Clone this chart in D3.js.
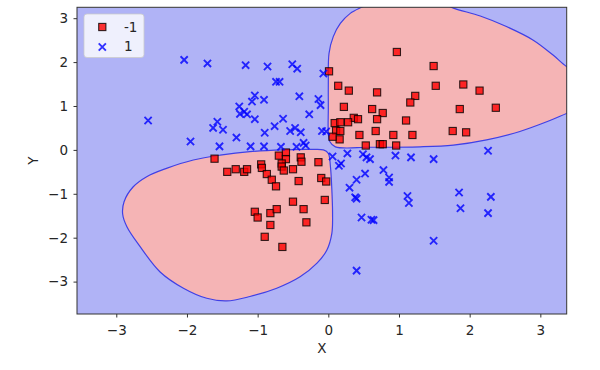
<!DOCTYPE html>
<html>
<head>
<meta charset="utf-8">
<script src="https://cdnjs.cloudflare.com/ajax/libs/d3/7.8.5/d3.min.js"></script>
<style>
body { margin: 0; background: #fff; }
svg { font-family: "DejaVu Sans", sans-serif; }
</style>
</head>
<body>
<svg width="600" height="370"></svg>
<script>
// points, class -1 (squares) and class 1 (crosses)
var classNeg = [
  [0.97,2.23],[1.49,1.91],[0.01,1.79],[0.14,1.46],[0.29,1.35],[0.69,1.31],[1.52,1.46],[1.91,1.49],
  [2.14,1.35],[1.23,1.23],[1.16,1.08],[0.22,0.98],[0.62,0.93],[0.77,0.84],[0.69,0.70],[1.86,0.93],
  [2.37,0.96],[1.10,0.67],[0.36,0.73],[0.42,0.70],[0.28,0.63],[0.09,0.61],[0.17,0.63],[0.11,0.44],
  [0.17,0.43],[0.16,0.24],[0.06,0.30],[0.44,0.34],[0.67,0.43],[0.92,0.34],[1.19,0.34],[1.76,0.43],
  [1.95,0.40],[0.53,0.10],[0.73,0.13],[0.77,0.13],[0.96,0.10],
  [-1.61,-0.20],[-1.43,-0.50],[-1.31,-0.44],[-1.19,-0.50],[-1.15,-0.44],[-0.95,-0.33],[-0.94,-0.41],
  [-0.87,-0.55],[-0.80,-0.68],[-0.74,-0.83],[-0.70,-0.13],[-0.60,-0.06],[-0.60,-0.21],[-0.66,-0.31],
  [-0.66,-0.38],[-0.63,-0.47],[-0.50,-0.44],[-0.39,-0.17],[-0.38,-0.27],[-0.14,-0.28],[-0.42,-0.71],
  [-0.10,-0.64],[-0.03,-0.72],[-0.05,-1.14],[-0.50,-1.18],[-0.35,-1.35],[-1.04,-1.41],[-1.00,-1.54],
  [-0.82,-1.44],[-0.73,-1.35],[-0.31,-1.65],[-0.82,-1.71],[-0.90,-1.98],[-0.65,-2.21]
];
var classPos = [
  [-2.04,2.05],[-1.71,1.97],[-1.17,1.93],[-0.86,1.90],[-0.51,1.95],[-0.44,1.85],[-0.74,1.55],[-0.69,1.55],
  [-0.07,1.74],[-0.41,1.22],[-1.04,1.24],[-1.08,1.10],[-0.91,1.14],[-0.14,1.16],[-0.11,1.02],[-1.26,0.99],
  [-1.19,0.87],[-1.25,0.82],[-1.15,0.81],[-1.04,0.70],[-0.64,0.71],[-0.27,0.81],[-1.57,0.64],[-1.63,0.50],
  [-1.49,0.46],[-2.55,0.67],[-1.95,0.19],[-1.30,0.28],[-1.54,0.08],[-0.90,0.39],[-0.76,0.54],[-0.54,0.43],
  [-0.47,0.50],[-0.39,0.40],[-0.09,0.43],[-0.03,0.42],[-1.10,0.08],[-0.91,0.08],[-0.67,0.07],[-0.45,0.07],
  [-0.35,0.16],[-0.32,0.10],
  [0.06,-0.15],[0.15,-0.36],[0.18,-0.31],[0.27,-0.08],[0.49,-0.10],[0.54,-0.17],[0.59,-0.21],[0.95,-0.13],
  [1.17,-0.17],[1.49,-0.21],[2.26,-0.02],[0.40,-0.68],[0.30,-0.86],[0.52,-0.54],[0.78,-0.46],[0.86,-0.63],
  [0.86,-0.73],[0.38,-1.08],[0.40,-1.11],[1.12,-1.05],[1.14,-1.21],[1.85,-0.97],[1.87,-1.33],[2.30,-1.07],
  [2.26,-1.44],[0.47,-1.54],[0.61,-1.59],[0.64,-1.60],[1.49,-2.07],[0.40,-2.75]
];

// decision region outlines (class -1 area)
var regionUpper = [
  [0.62,3.36],[0.47,3.25],[0.31,3.11],[0.17,2.88],[0.07,2.58],[0.01,2.20],[0.00,1.52],[0.00,0.95],
  [0.00,0.38],[0.02,0.19],[0.10,0.07],[0.59,0.06],[1.30,0.07],[1.77,0.11],[2.24,0.23],[2.71,0.42],
  [3.09,0.64],[3.37,0.83],[3.55,0.95],[3.80,1.35],[3.55,1.75],[3.37,1.90],[3.18,2.16],[2.90,2.50],
  [2.52,2.81],[2.15,3.05],[1.77,3.23],[1.60,3.36],[1.10,3.60]
];
var regionLower = [
  [-0.26,0.01],[-0.07,0.00],[0.00,-0.08],[0.03,-0.38],[0.05,-0.91],[0.06,-1.44],[0.05,-1.90],
  [-0.02,-2.28],[-0.16,-2.58],[-0.40,-2.89],[-0.73,-3.15],[-1.11,-3.34],[-1.44,-3.44],[-1.72,-3.38],
  [-2.05,-3.15],[-2.38,-2.78],[-2.66,-2.21],[-2.85,-1.75],[-2.91,-1.46],[-2.89,-1.18],[-2.76,-0.84],
  [-2.57,-0.61],[-2.29,-0.42],[-1.91,-0.23],[-1.53,-0.12],[-1.11,-0.04],[-0.64,0.00]
];

var xTicks = [-3, -2, -1, 0, 1, 2, 3];
var yTicks = [-3, -2, -1, 0, 1, 2, 3];
var legendLabels = ["-1", "1"];

var svg = d3.select("svg");
// plot box in pixels
var pLeft = 77, pRight = 566.7, pTop = 7.3, pBottom = 314;

var x = d3.scaleLinear().domain([-3.556, 3.373]).range([pLeft, pRight]);
var y = d3.scaleLinear().domain([-3.738, 3.248]).range([pBottom, pTop]);

var blueBg = "#b0b3f6", redBg = "#f5b4b5";

svg.append("defs").append("clipPath").attr("id", "plot-clip")
  .append("rect")
  .attr("x", pLeft).attr("y", pTop)
  .attr("width", pRight - pLeft).attr("height", pBottom - pTop);

var plot = svg.append("g").attr("clip-path", "url(#plot-clip)");

plot.append("rect")
  .attr("x", pLeft).attr("y", pTop)
  .attr("width", pRight - pLeft).attr("height", pBottom - pTop)
  .attr("fill", blueBg);

var outline = d3.line()
  .x(function(d) { return x(d[0]); })
  .y(function(d) { return y(d[1]); })
  .curve(d3.curveCatmullRomClosed.alpha(0.5));

plot.selectAll("path.region")
  .data([regionUpper, regionLower])
  .enter().append("path")
  .attr("class", "region")
  .attr("d", outline)
  .attr("fill", redBg)
  .attr("stroke", "#4040e6")
  .attr("stroke-width", 1.2);

// scatter: squares first, crosses on top
var sq = 7.2;
plot.selectAll("rect.neg")
  .data(classNeg)
  .enter().append("rect")
  .attr("class", "neg")
  .attr("x", function(d) { return x(d[0]) - sq / 2; })
  .attr("y", function(d) { return y(d[1]) - sq / 2; })
  .attr("width", sq).attr("height", sq)
  .attr("fill", "red").attr("fill-opacity", 0.8)
  .attr("stroke", "black").attr("stroke-opacity", 0.8)
  .attr("stroke-width", 1.1);

var r = 3.6;
var crossPath = "M" + (-r) + "," + (-r) + "L" + r + "," + r + "M" + (-r) + "," + r + "L" + r + "," + (-r);
plot.selectAll("path.pos")
  .data(classPos)
  .enter().append("path")
  .attr("class", "pos")
  .attr("transform", function(d) { return "translate(" + x(d[0]) + "," + y(d[1]) + ")"; })
  .attr("d", crossPath)
  .attr("fill", "none")
  .attr("stroke", "blue").attr("stroke-opacity", 0.8)
  .attr("stroke-width", 1.9);

// axes
var xAxis = svg.append("g")
  .attr("transform", "translate(0," + pBottom + ")")
  .call(d3.axisBottom(x).tickValues(xTicks).tickSize(3.5).tickPadding(7.5).tickFormat(d3.format("d")));
var yAxis = svg.append("g")
  .attr("transform", "translate(" + pLeft + ",0)")
  .call(d3.axisLeft(y).tickValues(yTicks).tickSize(3.5).tickPadding(5.5).tickFormat(d3.format("d")));

[xAxis, yAxis].forEach(function(a) {
  a.select(".domain").remove();
  a.selectAll("line").attr("stroke", "#333");
  a.selectAll("text").attr("fill", "#262626").style("font-size", "13.5px")
    .style("font-family", "'DejaVu Sans', sans-serif");
});

svg.append("rect")
  .attr("x", pLeft).attr("y", pTop)
  .attr("width", pRight - pLeft).attr("height", pBottom - pTop)
  .attr("fill", "none").attr("stroke", "#333").attr("stroke-width", 1);

svg.append("text")
  .attr("x", (pLeft + pRight) / 2).attr("y", 353)
  .attr("text-anchor", "middle")
  .attr("fill", "#262626").style("font-size", "13.5px")
  .text("X");

svg.append("text")
  .attr("transform", "translate(38," + ((pTop + pBottom) / 2) + ") rotate(-90)")
  .attr("text-anchor", "middle")
  .attr("fill", "#262626").style("font-size", "13.5px")
  .text("Y");

// legend
var legend = svg.append("g");
legend.append("rect")
  .attr("x", 84).attr("y", 14).attr("width", 60).attr("height", 43.5)
  .attr("rx", 3)
  .attr("fill", "white").attr("fill-opacity", 0.8)
  .attr("stroke", "#cccccc").attr("stroke-opacity", 0.8);

legend.append("rect")
  .attr("x", 102.3 - sq / 2).attr("y", 27 - sq / 2)
  .attr("width", sq).attr("height", sq)
  .attr("fill", "red").attr("fill-opacity", 0.8)
  .attr("stroke", "black").attr("stroke-opacity", 0.8)
  .attr("stroke-width", 1.1);
legend.append("path")
  .attr("transform", "translate(102.3,47)")
  .attr("d", crossPath)
  .attr("fill", "none")
  .attr("stroke", "blue").attr("stroke-opacity", 0.8)
  .attr("stroke-width", 1.9);

legend.selectAll("text")
  .data(legendLabels)
  .enter().append("text")
  .attr("x", 124)
  .attr("y", function(d, i) { return 31.5 + i * 19.8; })
  .attr("fill", "#262626").style("font-size", "13.5px")
  .text(function(d) { return d; });
</script>
</body>
</html>
